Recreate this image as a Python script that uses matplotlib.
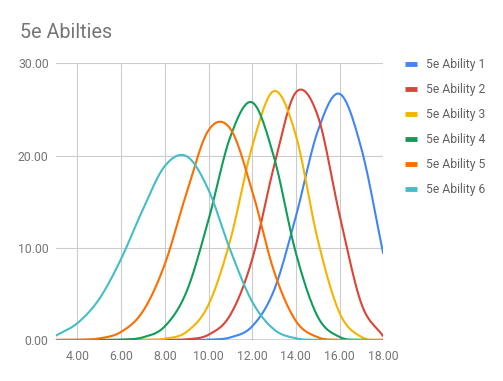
import numpy as np
import matplotlib
matplotlib.use("Agg")
import matplotlib.pyplot as plt

plt.rcParams['font.family'] = ['Roboto', 'DejaVu Sans']

scores = [3, 4, 5, 6, 7, 8, 9, 10, 11, 12, 13, 14, 15, 16, 17, 18]

ability1 = [0, 0, 0, 0, 0, 0, 0, 0.04, 0.28, 1.49, 5.40, 13.40, 22.64, 26.69, 20.73, 9.34]
ability2 = [0, 0, 0, 0, 0, 0.01, 0.08, 0.57, 2.73, 8.75, 18.85, 26.85, 24.31, 13.55, 3.92, 0.38]
ability3 = [0, 0, 0, 0, 0.01, 0.14, 0.89, 3.83, 10.85, 21.00, 26.99, 22.17, 10.86, 2.93, 0.33, 0.01]
ability4 = [0, 0, 0, 0.04, 0.29, 1.48, 5.27, 13.03, 22.04, 25.76, 19.80, 9.42, 2.52, 0.33, 0.02, 0]
ability5 = [0, 0.02, 0.17, 0.88, 3.12, 8.22, 15.97, 22.74, 22.90, 16.16, 7.44, 2.06, 0.30, 0.02, 0, 0]
ability6 = [0.46, 1.83, 4.45, 8.80, 14.17, 18.86, 19.92, 16.27, 9.73, 4.15, 1.14, 0.18, 0.01, 0, 0, 0]

labels = ["5e Ability 1", "5e Ability 2", "5e Ability 3",
          "5e Ability 4", "5e Ability 5", "5e Ability 6"]
colors = ['#4285F4', '#DB4437', '#F4B400', '#0F9D58', '#FF6D00', '#46BDC6']


def smooth_curve(x, y, steps=24):
    # catmull-rom path through the points, like the sheets "smooth" line
    x = np.asarray(x, float)
    y = np.asarray(y, float)
    px = np.concatenate([[2 * x[0] - x[1]], x, [2 * x[-1] - x[-2]]])
    py = np.concatenate([[2 * y[0] - y[1]], y, [2 * y[-1] - y[-2]]])
    t = np.linspace(0, 1, steps, endpoint=False)
    h00 = 2 * t**3 - 3 * t**2 + 1
    h10 = t**3 - 2 * t**2 + t
    h01 = -2 * t**3 + 3 * t**2
    h11 = t**3 - t**2
    out_x, out_y = [], []
    for i in range(1, len(px) - 2):
        mx0 = (px[i + 1] - px[i - 1]) / 2
        mx1 = (px[i + 2] - px[i]) / 2
        my0 = (py[i + 1] - py[i - 1]) / 2
        my1 = (py[i + 2] - py[i]) / 2
        out_x.append(h00 * px[i] + h10 * mx0 + h01 * px[i + 1] + h11 * mx1)
        out_y.append(h00 * py[i] + h10 * my0 + h01 * py[i + 1] + h11 * my1)
    out_x.append([x[-1]])
    out_y.append([y[-1]])
    return np.concatenate(out_x), np.concatenate(out_y)


fig = plt.figure(figsize=(5.03, 3.81), dpi=100)
ax = fig.add_axes([0.1105, 0.1076, 0.762 - 0.1105, 0.8339 - 0.1076])

series = [ability1, ability2, ability3, ability4, ability5, ability6]
for vals, lab, col in zip(series, labels, colors):
    sx, sy = smooth_curve(scores, vals)
    ax.plot(sx, sy, color=col, linewidth=1.5, label=lab, solid_capstyle='butt')

ax.set_xlim(3, 18)
ax.set_ylim(0, 30)
ax.set_xticks([4, 6, 8, 10, 12, 14, 16, 18])
ax.set_xticklabels(["4.00", "6.00", "8.00", "10.00", "12.00", "14.00", "16.00", "18.00"])
ax.set_yticks([0, 10, 20, 30])
ax.set_yticklabels(["0.00", "10.00", "20.00", "30.00"])
ax.grid(True, color='#cccccc', linewidth=0.8)
ax.set_axisbelow(True)
for s in ax.spines.values():
    s.set_visible(False)
ax.axhline(0, color='#333333', linewidth=1.0, zorder=1.5)
ax.tick_params(length=0, labelsize=8.8, labelcolor='#757575')
ax.tick_params(axis='x', pad=7)
ax.tick_params(axis='y', pad=5)

fig.text(20 / 503, 1 - 37.5 / 381, "5e Abilties", fontsize=14.2,
         color='#757575', va='baseline', ha='left')

leg = fig.legend(loc='upper left', bbox_to_anchor=(400 / 503, 1 - 53 / 381),
                 frameon=False, fontsize=8.7, handlelength=1.0,
                 handletextpad=0.75, labelspacing=1.0, borderaxespad=0)
for h in leg.get_lines():
    h.set_linewidth(3.5)
for t in leg.get_texts():
    t.set_color('#616161')

fig.savefig("out.png", dpi=100)
